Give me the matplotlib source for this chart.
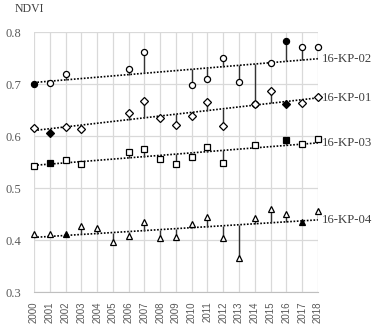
import numpy as np
import matplotlib
matplotlib.use('Agg')
import matplotlib.pyplot as plt

# NDVI per plot, None = no observation
years = list(range(2000, 2019))
kp02 = [0.700, 0.702, 0.720, None, None, None, 0.729, 0.761, None, None,
        0.699, 0.709, 0.751, 0.704, 0.661, 0.740, 0.783, 0.771, 0.772]
kp01 = [0.615, 0.605, 0.617, 0.613, None, None, 0.644, 0.667, 0.634, 0.622,
        0.639, 0.666, 0.620, None, 0.661, 0.686, 0.662, 0.663, 0.676]
kp03 = [0.543, 0.549, 0.554, 0.547, None, None, 0.569, 0.575, 0.556, 0.546,
        0.559, 0.578, 0.548, None, 0.582, None, 0.592, 0.584, 0.594]
kp04 = [0.412, 0.411, 0.411, 0.426, 0.423, 0.396, 0.408, 0.435, 0.403, 0.405,
        0.430, 0.444, 0.404, 0.365, 0.443, 0.459, 0.451, 0.434, 0.456]

series = [
    ("16-KP-02", kp02, 'o', [2000, 2016]),
    ("16-KP-01", kp01, 'D', [2001, 2016]),
    ("16-KP-03", kp03, 's', [2001, 2016]),
    ("16-KP-04", kp04, '^', [2002, 2017]),
]
msizes = {'o': 4.4, 'D': 3.8, 's': 4.4, '^': 4.8}

fig = plt.figure(figsize=(3.75, 3.27), dpi=100)
ax = fig.add_axes([0.0907, 0.107, 0.757, 0.795])

for name, vals, mk, filled in series:
    x = np.array([y for y, v in zip(years, vals) if v is not None])
    y = np.array([v for v in vals if v is not None])
    # linear trend, residuals drawn as drop lines
    k, b = np.polyfit(x, y, 1)
    xt = np.array([2000, 2018])
    ax.plot(xt, k * xt + b, color='black', ls=(0, (1, 1)), lw=1.2, zorder=2)
    fit = k * x + b
    ax.vlines(x, fit, y, color='#333333', lw=1.0, zorder=2)
    for xi, yi in zip(x, y):
        fc = 'black' if xi in filled else 'white'
        ax.plot(xi, yi, marker=mk, ms=msizes[mk], mfc=fc, mec='black',
                mew=0.9, zorder=3, clip_on=False)
    ax.text(2018.25, k * 2018 + b, name, fontsize=9.2, family='Liberation Serif',
            color='#404040', va='center', ha='left')

ax.set_xlim(2000, 2018)
ax.set_ylim(0.3, 0.8)
ax.set_xticks(years)
ax.set_xticklabels([str(y) for y in years], rotation=90, fontsize=7,
                   family='Liberation Sans', color='#595959')
ax.set_yticks([0.3, 0.4, 0.5, 0.6, 0.7, 0.8])
ax.set_yticklabels(['0.3', '0.4', '0.5', '0.6', '0.7', '0.8'], fontsize=9,
                   family='Liberation Serif', color='#595959')
ax.grid(True, color='#d9d9d9', lw=0.9, zorder=0)
ax.set_axisbelow(True)
for s in ['top', 'right', 'left']:
    ax.spines[s].set_visible(False)
ax.spines['bottom'].set_color('#bfbfbf')
ax.tick_params(axis='x', length=0, pad=7)
ax.tick_params(axis='y', length=0, pad=9)
fig.text(0.04, 0.972, 'NDVI', fontsize=8.5, family='Liberation Serif',
         color='#404040', va='center')

fig.savefig('out.png', dpi=100)
